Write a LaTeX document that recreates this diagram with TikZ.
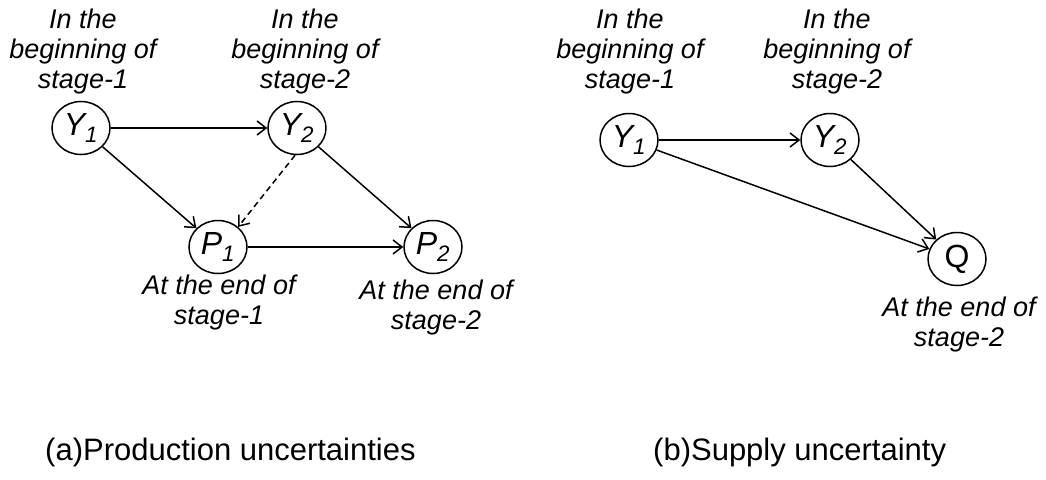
\documentclass[tikz,border=0pt]{standalone}
\usepackage{fontspec}
\setmainfont{Liberation Sans}
\usetikzlibrary{arrows.meta,shapes.geometric}
\begin{document}
\begin{tikzpicture}[x=1pt,y=-1pt,
  var/.style={draw,ellipse,line width=1.5pt,minimum width=58pt,minimum height=53pt,inner sep=0pt,font=\fontsize{32}{32}\selectfont},
  lbl/.style={align=center,font=\fontsize{27}{30}\selectfont\itshape,inner sep=0pt},
  captext/.style={font=\fontsize{31}{34}\selectfont,inner sep=0pt,anchor=west},
  arr/.style={line width=1.5pt,-{Straight Barb[length=9pt,width=14pt,line width=1.5pt]}}]
\useasboundingbox (0,0) rectangle (1046,479);
% panel (a)
\node[var] (Y1a) at (81,128) {\itshape Y\textsubscript{1}};
\node[var] (Y2a) at (297,128) {\itshape Y\textsubscript{2}};
\node[var] (P1) at (218,247) {\itshape P\textsubscript{1}};
\node[var] (P2) at (433,247) {\itshape P\textsubscript{2}};
\node[lbl] (la1) at (83,52) {In the\\beginning of\\stage-1};
\node[lbl] (la2) at (305,52) {In the\\beginning of\\stage-2};
\node[lbl] (lp1) at (219,303) {At the end of\\stage-1};
\node[lbl] (lp2) at (436,308) {At the end of\\stage-2};
\draw[arr] (Y1a) -- (Y2a);
\draw[arr] (Y1a) -- (P1);
\draw[arr,dashed,dash pattern=on 6pt off 4pt] (Y2a.-94) -- (P1.45);
\draw[arr] (Y2a) -- (P2);
\draw[arr] (P1) -- (P2);
\node[captext] (capa) at (45,452) {(a)Production uncertainties};
% panel (b)
\node[var] (Y1b) at (629,140) {\itshape Y\textsubscript{1}};
\node[var] (Y2b) at (830,140) {\itshape Y\textsubscript{2}};
\node[var] (Q) at (957,259) {Q};
\node[lbl] (lb1) at (630,52) {In the\\beginning of\\stage-1};
\node[lbl] (lb2) at (837,52) {In the\\beginning of\\stage-2};
\node[lbl] (lq) at (959,325) {At the end of\\stage-2};
\draw[arr] (Y1b) -- (Y2b);
\draw[arr] (Y1b) -- (Q);
\draw[arr] (Y2b) -- (Q);
\node[captext] (capb) at (653,452) {(b)Supply uncertainty};
\end{tikzpicture}
\end{document}
